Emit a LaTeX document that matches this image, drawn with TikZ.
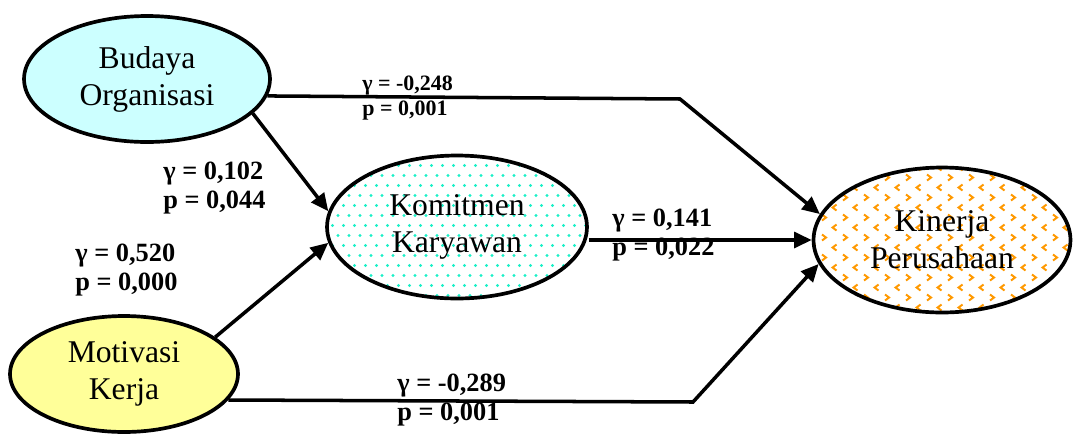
\documentclass[tikz,border=0pt]{standalone}
\usepackage{fontspec}
\setmainfont{Liberation Serif}
\usetikzlibrary{shapes.geometric,arrows.meta}
\definecolor{lightcyan}{HTML}{CCFFFF}
\definecolor{lightyellow}{HTML}{FFFF99}
\definecolor{dotcyan}{HTML}{1AF0C8}
\definecolor{chevorange}{HTML}{FF9900}

\tikzset{
  latent/.style={ellipse, draw=black, line width=2.1pt, align=center, inner sep=0pt,
    font=\fontsize{18}{21}\selectfont},
  link/.style={line width=2pt, -{Triangle[length=10pt,width=9pt]}},
  coef/.style={anchor=west, align=left, inner sep=0pt, font=\bfseries\fontsize{15}{17}\selectfont},
  smallcoef/.style={coef, font=\bfseries\fontsize{12.5}{14}\selectfont},
  dotfill/.style={fill=white, path picture={
    \foreach \j [evaluate=\j as \off using {5.5*mod(\j,2)}] in {0,...,15}
      \foreach \i in {0,...,24}
        \fill[dotcyan] ([shift={({\i*11+\off},{\j*10})}]path picture bounding box.north west) circle (0.95pt);
  }},
  chevfill/.style={fill=white, path picture={
    \foreach \j [evaluate=\j as \off using {10.5*mod(\j,2)}, evaluate=\j as \dir using {1-2*mod(\j,2)}] in {0,...,15}
      \foreach \i in {0,...,13}
        \draw[chevorange, line width=1.1pt] ([shift={({\i*21+\off},{\j*10})}]path picture bounding box.north west)
          ++({2*\dir},-3) -- ++({-4*\dir},3) -- ++({4*\dir},3);
  }}
}

\begin{document}
\begin{tikzpicture}[x=0.02cm, y=-0.02cm]
\useasboundingbox (0,0) rectangle (1078,440);

% constructs
\node[latent, fill=lightcyan, minimum width=4.92cm, minimum height=2.52cm] (bo) at (147,79) {Budaya\\Organisasi};
\node[latent, dotfill, minimum width=5.2cm, minimum height=2.86cm] (kk) at (457,227) {Komitmen\\Karyawan};
\node[latent, chevfill, minimum width=5.14cm, minimum height=2.9cm] (kp) at (942,240) {Kinerja\\Perusahaan};
\node[latent, fill=lightyellow, minimum width=4.56cm, minimum height=2.32cm] (mk) at (124,374) {Motivasi\\Kerja};

% bends of the direct paths
\coordinate (c1) at (680,99);
\coordinate (c2) at (693,402);

% paths
\draw[link] (bo.-8) -- (c1) -- (kp.168);
\draw[link] (bo.-18) -- (kk.173);
\draw[link] (mk.22) -- (kk.187);
\draw[link] (kk.east |- kp.west) -- (kp.west);
\draw[link] (mk.-14) -- (c2) -- (kp.191);

% coefficients
\node[smallcoef] (l1) at (362,98) {γ = -0,248\\p = 0,001};
\node[coef] (l2) at (163,188) {γ = 0,102\\p = 0,044};
\node[coef] (l3) at (75,270) {γ = 0,520\\p = 0,000};
\node[coef] (l4) at (612,235) {γ = 0,141\\p = 0,022};
\node[coef] (l5) at (397,400) {γ = -0,289\\p = 0,001};
\end{tikzpicture}
\end{document}
